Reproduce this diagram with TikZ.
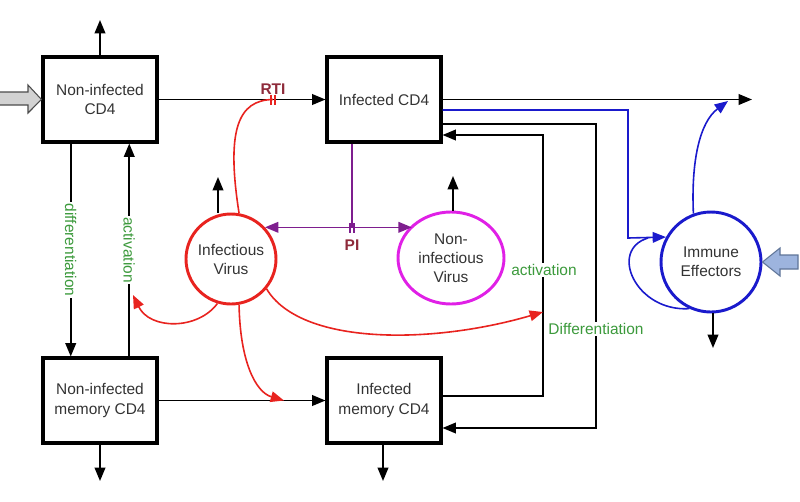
\documentclass[tikz,border=0pt]{standalone}
\usepackage{fontspec}
\setmainfont{Liberation Sans}
\usetikzlibrary{arrows.meta,shapes.geometric,calc}
\definecolor{vred}{HTML}{E8231F}
\definecolor{vmag}{HTML}{E020E6}
\definecolor{vblue}{HTML}{1A1ACC}
\definecolor{vpurp}{HTML}{7E1E8E}
\definecolor{vgreen}{HTML}{3C9A3C}
\definecolor{vlab}{HTML}{8E2A3A}
\definecolor{txt}{HTML}{333333}
\definecolor{inblue}{HTML}{9DB4DE}
\definecolor{inblueline}{HTML}{5F7598}
\tikzset{
  tip/.tip={Triangle[length=10pt,width=8pt]},
  lbl/.style={font=\fontsize{11.6}{14.3}\selectfont, text=txt, align=center},
  cellbox/.style={lbl, draw=black, line width=2.3pt, minimum width=85.5pt, minimum height=63.75pt, inner sep=0pt},
  virus/.style={lbl, circle, draw=vred, line width=2.2pt, minimum size=67.5pt, inner sep=0pt},
  nvirus/.style={lbl, ellipse, draw=vmag, line width=2.2pt, minimum width=79.5pt, minimum height=69pt, inner sep=0pt},
  immune/.style={lbl, circle, draw=vblue, line width=2.2pt, minimum size=75pt, inner sep=0pt},
  flow/.style={line width=1.2pt, -tip},
  glbl/.style={font=\fontsize{11.6}{14}\selectfont, text=vgreen, fill=white, inner sep=1pt},
  drug/.style={font=\bfseries\fontsize{11.6}{14}\selectfont, text=vlab, inner sep=0pt},
}
\begin{document}
\begin{tikzpicture}[x=0.75pt,y=-0.75pt]
\useasboundingbox (0,0) rectangle (800,501);

% nodes
\node[cellbox] (nicd4) at (100,99.5) {Non-infected\\CD4};
\node[cellbox] (icd4) at (384,99.5) {Infected CD4};
\node[cellbox] (nimcd4) at (100,400.5) {Non-infected\\memory CD4};
\node[cellbox] (imcd4) at (384,400.5) {Infected\\memory CD4};
\node[virus] (ivirus) at (231,259) {Infectious\\Virus};
\node[nvirus] (niv) at (451,258) {Non-\\infectious\\Virus};
\node[immune] (ie) at (711,262) {Immune\\Effectors};

% free ends
\coordinate (o1) at (100,20);
\coordinate (o2) at (218,177);
\coordinate (o3) at (453,176);
\coordinate (o4) at (100,481);
\coordinate (o5) at (383,481);
\coordinate (o6) at (713,348);
\coordinate (o7) at (752,99.5);

% outflows
\draw[flow] (nicd4.north) -- (o1);
\draw[flow] (ivirus.north -| o2) -- (o2);
\draw[flow] (niv.north -| o3) -- (o3);
\draw[flow] (nimcd4.south) -- (o4);
\draw[flow] (imcd4.south -| o5) -- (o5);
\draw[flow] (ie.south -| o6) -- (o6);

% inflow fat arrows
\draw[fill=gray!35, draw=gray!60!black, line width=0.8pt]
  (0,92) -- (28,92) -- (28,85) -- (nicd4.west) -- (28,113) -- (28,105) -- (0,105);
\draw[fill=inblue, draw=inblueline, line width=0.8pt]
  (798,255) -- (780,255) -- (780,248) -- (ie.east) -- (780,276) -- (780,269) -- (798,269) -- cycle;

% main flows
\draw[flow] (nicd4.east) -- (icd4.west);
\draw[flow] (icd4.east) -- (o7);
\draw[flow] (nimcd4.east) -- (imcd4.west);
\draw[flow] ($(nicd4.south west)!.25!(nicd4.south east)$) -- ($(nimcd4.north west)!.25!(nimcd4.north east)$)
  node[glbl, rotate=-90, pos=0.5] {differentiation};
\draw[flow] ($(nimcd4.north west)!.75!(nimcd4.north east)$) -- ($(nicd4.south west)!.75!(nicd4.south east)$)
  node[glbl, rotate=-90, pos=0.5] {activation};

% infected memory loops
\draw[flow] (icd4.east |- 0,124) -| (596,428) -- (imcd4.east |- 0,428);
\node[glbl] at (596,329) {Differentiation};
\draw[flow] (imcd4.east |- 0,396) -| (543,135) -- (icd4.east |- 0,135);
\coordinate (actpt) at (543,312);
\node[glbl] at (544,270) {activation};

% immune
\draw[vblue, line width=1.2pt, -tip]
  (icd4.east |- 0,110) -| (628,238) -- (ie.151.3);
\draw[vblue, line width=1.2pt, -tip]
  (ie.110) .. controls (691,160) and (700,122) .. (728,101);
\draw[vblue, line width=1.2pt]
  (ie.245) .. controls (636,312) and (608,250) .. (648,238);

% RTI
\coordinate (rti) at (273,99.5);
\draw[vred, line width=1.2pt] (ivirus.80) .. controls (226,130) and (238,100) .. (rti);
\draw[vred, line width=1pt] ($(rti)+(-2,-5)$) -- ($(rti)+(-2,5)$) ($(rti)+(2,-5)$) -- ($(rti)+(2,5)$);
\node[drug] at (273,89) {RTI};

% PI
\draw[vpurp, line width=1.2pt] (icd4.south -| 352,0) -- (352,228);
\draw[vpurp, line width=1.2pt, tip-tip]
  (ivirus.43.5) -- (niv.140.5 |- ivirus.43.5);
\draw[vpurp, line width=1pt] (350,223) -- (350,233) (354,223) -- (354,233);
\node[drug] at (352,245) {PI};

% virus effects
\draw[vred, line width=1.2pt, -tip]
  (ivirus.253) .. controls (198,330) and (150,330) .. (133,295);
\draw[vred, line width=1.2pt, -tip]
  (ivirus.280) .. controls (240,360) and (255,392) .. (284,400.5);
\draw[vred, line width=1.2pt, -tip]
  (ivirus.320) .. controls (300,345) and (430,345) .. (actpt);
\end{tikzpicture}
\end{document}
